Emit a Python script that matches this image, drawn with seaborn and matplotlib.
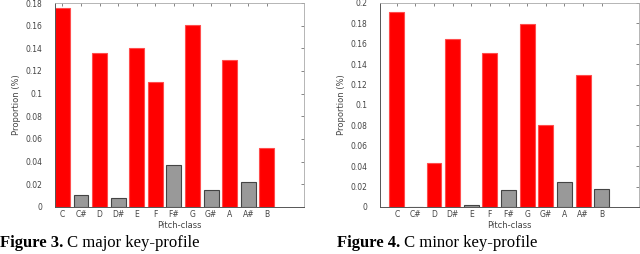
import pandas as pd
import matplotlib.pyplot as plt
import seaborn as sns

# === Data ===
pitch_classes = ["C", "C#", "D", "D#", "E", "F", "F#", "G", "G#", "A", "A#", "B"]

major_profile = [0.176, 0.011, 0.136, 0.008, 0.140, 0.110, 0.037, 0.161, 0.015, 0.130, 0.022, 0.052]
major_in_scale = [True, False, True, False, True, True, False, True, False, True, False, True]

minor_profile = [0.191, 0.0, 0.043, 0.165, 0.002, 0.151, 0.017, 0.179, 0.080, 0.025, 0.129, 0.018]
minor_in_scale = [True, False, True, True, False, True, False, True, True, False, True, False]

major_yticks = [0, 0.02, 0.04, 0.06, 0.08, 0.1, 0.12, 0.14, 0.16, 0.18]
minor_yticks = [0, 0.02, 0.04, 0.06, 0.08, 0.1, 0.12, 0.14, 0.16, 0.18, 0.2]

sns.set_theme(style="white")
plt.rcParams["font.family"] = ["DejaVu Sans"]

fig = plt.figure(figsize=(6.4, 2.54), dpi=100)
ax1 = fig.add_axes([55 / 640, 47 / 254, 249 / 640, 204 / 254])
ax2 = fig.add_axes([380 / 640, 47 / 254, 259 / 640, 204 / 254])


def draw_profile(ax, values, in_scale, yticks, xlim):
    df = pd.DataFrame({
        "Pitch": pitch_classes,
        "Proportion": values,
        "Group": ["in" if s else "out" for s in in_scale],
    })
    sns.barplot(
        data=df, x="Pitch", y="Proportion", hue="Group",
        order=pitch_classes, hue_order=["in", "out"],
        palette={"in": "#ff0000", "out": "#999999"},
        dodge=False, width=0.8, legend=False, ax=ax, saturation=1,
    )
    for patch in ax.patches:
        fc = patch.get_facecolor()
        if fc[1] < 0.1:
            patch.set_edgecolor("#ff4d4d")
        else:
            patch.set_edgecolor("#444444")
        patch.set_linewidth(0.8)

    ax.set_xlim(*xlim)
    ax.set_ylim(yticks[0], yticks[-1])
    ax.set_yticks(yticks)
    ax.set_yticklabels([f"{t:g}" for t in yticks])
    ax.set_xlabel("Pitch-class", fontsize=6, color="#444444", labelpad=1)
    ax.set_ylabel("Proportion (%)", fontsize=6, color="#444444", labelpad=3)
    ax.tick_params(axis="both", direction="in", length=2.5, width=0.5,
                   labelsize=5.5, labelcolor="#444444", color="#555555",
                   top=True, right=True)
    ax.tick_params(axis="y", pad=9)
    ax.tick_params(axis="x", pad=2.5)
    for side in ["left", "bottom"]:
        ax.spines[side].set_color("#555555")
        ax.spines[side].set_linewidth(0.7)
    for side in ["top", "right"]:
        ax.spines[side].set_color("#aaaaaa")
        ax.spines[side].set_linewidth(0.6)


draw_profile(ax1, major_profile, major_in_scale, major_yticks, (-0.4, 13.0))
draw_profile(ax2, minor_profile, minor_in_scale, minor_yticks, (-0.9, 13.0))

# === Captions ===
cap_font = dict(family="Liberation Serif", fontsize=12, color="black")
for x0, num, rest in [(0, "Figure 3.", " C major key-profile"),
                      (337, "Figure 4.", " C minor key-profile")]:
    t = fig.text(x0 / 640, 3 / 254, num, weight="bold", va="bottom", **cap_font)
    plt.annotate(rest, xy=(1, 0), xycoords=t, va="bottom", ha="left",
                 annotation_clip=False, **cap_font)

fig.savefig("out.png", dpi=100)
